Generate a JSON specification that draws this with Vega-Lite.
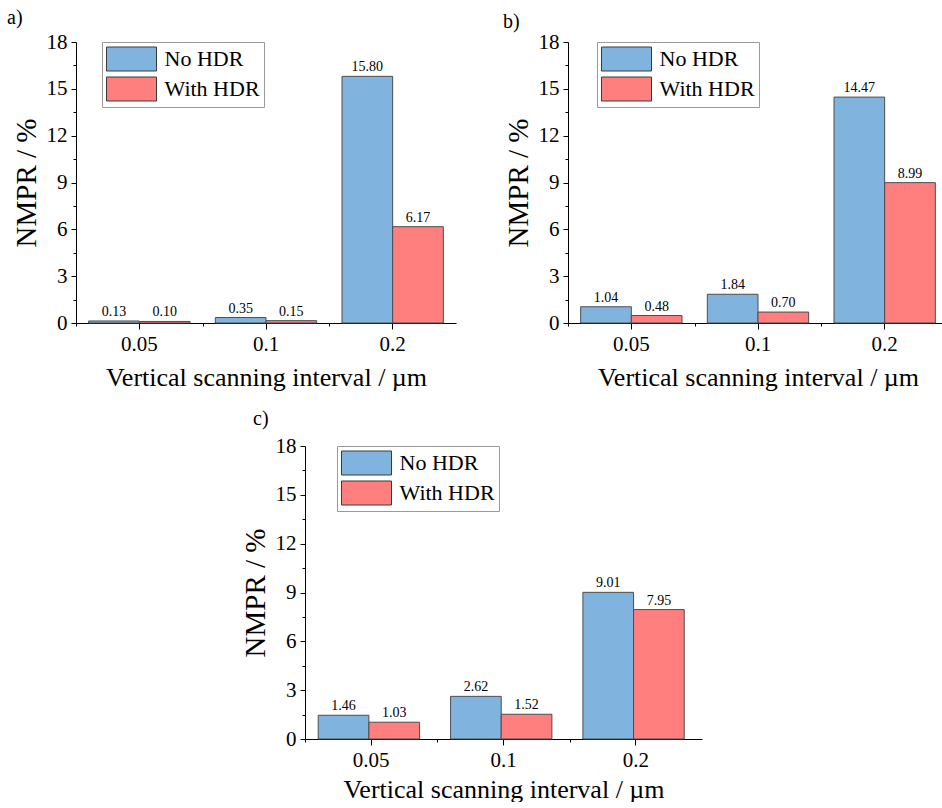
{
  "$schema": "https://vega.github.io/schema/vega-lite/v6.json",
  "background": "white",
  "padding": {"left": 7, "top": 8, "right": 0, "bottom": 0},
  "datasets": {
    "nmpr": [
      {"panel": "a", "interval": "0.05", "hdr": "No HDR", "value": 0.13},
      {"panel": "a", "interval": "0.05", "hdr": "With HDR", "value": 0.10},
      {"panel": "a", "interval": "0.1", "hdr": "No HDR", "value": 0.35},
      {"panel": "a", "interval": "0.1", "hdr": "With HDR", "value": 0.15},
      {"panel": "a", "interval": "0.2", "hdr": "No HDR", "value": 15.80},
      {"panel": "a", "interval": "0.2", "hdr": "With HDR", "value": 6.17},
      {"panel": "b", "interval": "0.05", "hdr": "No HDR", "value": 1.04},
      {"panel": "b", "interval": "0.05", "hdr": "With HDR", "value": 0.48},
      {"panel": "b", "interval": "0.1", "hdr": "No HDR", "value": 1.84},
      {"panel": "b", "interval": "0.1", "hdr": "With HDR", "value": 0.70},
      {"panel": "b", "interval": "0.2", "hdr": "No HDR", "value": 14.47},
      {"panel": "b", "interval": "0.2", "hdr": "With HDR", "value": 8.99},
      {"panel": "c", "interval": "0.05", "hdr": "No HDR", "value": 1.46},
      {"panel": "c", "interval": "0.05", "hdr": "With HDR", "value": 1.03},
      {"panel": "c", "interval": "0.1", "hdr": "No HDR", "value": 2.62},
      {"panel": "c", "interval": "0.1", "hdr": "With HDR", "value": 1.52},
      {"panel": "c", "interval": "0.2", "hdr": "No HDR", "value": 9.01},
      {"panel": "c", "interval": "0.2", "hdr": "With HDR", "value": 7.95}
    ]
  },
  "config": {
    "view": {"stroke": null},
    "font": "Liberation Serif",
    "axis": {
      "grid": false,
      "domainColor": "black",
      "tickColor": "black",
      "labelColor": "black",
      "titleColor": "black",
      "labelFont": "Liberation Serif",
      "titleFont": "Liberation Serif",
      "titleFontWeight": "normal",
      "domainWidth": 1,
      "tickWidth": 1
    },
    "title": {"font": "Liberation Serif", "fontWeight": "normal", "fontSize": 20, "color": "black", "anchor": "start", "frame": "group", "baseline": "alphabetic"},
    "legend": {
      "orient": "none",
      "title": null,
      "symbolType": "M-2,-0.96H2V0.96H-2Z",
      "symbolSize": 625,
      "symbolOffset": 12.5,
      "symbolStrokeColor": "#3a3a3a",
      "symbolStrokeWidth": 1,
      "symbolOpacity": 1,
      "labelFont": "Liberation Serif",
      "labelFontSize": 22,
      "labelColor": "black",
      "labelOffset": 20,
      "strokeColor": "#9a9a9a",
      "fillColor": "white",
      "padding": 4,
      "rowPadding": 2
    }
  },
  "spacing": 19,
  "resolve": {"scale": {"color": "independent"}, "legend": {"color": "independent"}},
  "vconcat": [
    {
      "spacing": 47,
      "resolve": {"scale": {"color": "independent"}, "legend": {"color": "independent"}},
      "hconcat": [
        {
          "width": 380,
          "height": 281,
          "title": {"text": "a)", "dx": -69, "offset": 3},
          "data": {"name": "nmpr"},
          "transform": [{"filter": "datum.panel == 'a'"}],
          "encoding": {
            "y": {"field": "value", "type": "quantitative", "scale": {"domain": [0, 18], "nice": false},
              "axis": {"orient": "left", "values": [0, 3, 6, 9, 12, 15, 18], "tickSize": 5, "labelFont": "Liberation Serif", "labelFontSize": 21, "labelPadding": 4, "title": "NMPR / %", "titleFontSize": 29, "titlePadding": 5}},
            "xOffset": {"field": "hdr", "type": "nominal", "sort": ["No HDR", "With HDR"]}
          },
          "layer": [
            {
              "mark": {"type": "bar", "stroke": "#4d4d4d", "strokeWidth": 1},
              "encoding": {
                "x": {"field": "interval", "type": "nominal", "sort": ["0.05", "0.1", "0.2"], "scale": {"paddingInner": 0.2, "paddingOuter": 0.1},
                  "axis": {"orient": "bottom", "labelAngle": 0, "tickSize": 6, "labelFont": "Liberation Serif", "labelFontSize": 21, "labelPadding": 4, "title": "Vertical scanning interval / µm", "titleFontSize": 26, "titlePadding": 10}},
                "color": {"field": "hdr", "type": "nominal", "sort": ["No HDR", "With HDR"],
                  "scale": {"domain": ["No HDR", "With HDR"], "range": ["#80B4DE", "#FF7F7F"]},
                  "legend": {"legendX": 26, "legendY": 0, "labelFont": "Liberation Serif"}}
              }
            },
            {
              "mark": {"type": "text", "baseline": "bottom", "dy": -2, "fontSize": 14, "font": "Liberation Serif", "color": "black"},
              "encoding": {
                "x": {"field": "interval", "type": "nominal", "sort": ["0.05", "0.1", "0.2"], "scale": {"paddingInner": 0.2, "paddingOuter": 0.1},
                  "axis": {"orient": "bottom", "labels": false, "domain": false, "title": null, "tickSize": 3, "tickOffset": -63.3}},
                "y": {"field": "value", "type": "quantitative", "scale": {"domain": [0, 18], "nice": false},
                  "axis": {"orient": "left", "values": [1.5, 4.5, 7.5, 10.5, 13.5, 16.5], "labels": false, "domain": false, "title": null, "tickSize": 3}},
                "text": {"field": "value", "type": "quantitative", "format": ".2f"}
              }
            }
          ],
          "resolve": {"axis": {"x": "independent", "y": "independent"}}
        },
        {
          "width": 380,
          "height": 281,
          "title": {"text": "b)", "dx": -65, "offset": -1},
          "data": {"name": "nmpr"},
          "transform": [{"filter": "datum.panel == 'b'"}],
          "encoding": {
            "y": {"field": "value", "type": "quantitative", "scale": {"domain": [0, 18], "nice": false},
              "axis": {"orient": "left", "values": [0, 3, 6, 9, 12, 15, 18], "tickSize": 5, "labelFont": "Liberation Serif", "labelFontSize": 21, "labelPadding": 4, "title": "NMPR / %", "titleFontSize": 29, "titlePadding": 5}},
            "xOffset": {"field": "hdr", "type": "nominal", "sort": ["No HDR", "With HDR"]}
          },
          "layer": [
            {
              "mark": {"type": "bar", "stroke": "#4d4d4d", "strokeWidth": 1},
              "encoding": {
                "x": {"field": "interval", "type": "nominal", "sort": ["0.05", "0.1", "0.2"], "scale": {"paddingInner": 0.2, "paddingOuter": 0.1},
                  "axis": {"orient": "bottom", "labelAngle": 0, "tickSize": 6, "labelFont": "Liberation Serif", "labelFontSize": 21, "labelPadding": 4, "title": "Vertical scanning interval / µm", "titleFontSize": 26, "titlePadding": 10}},
                "color": {"field": "hdr", "type": "nominal", "sort": ["No HDR", "With HDR"],
                  "scale": {"domain": ["No HDR", "With HDR"], "range": ["#80B4DE", "#FF7F7F"]},
                  "legend": {"legendX": 29, "legendY": 0, "labelFont": "Liberation Serif"}}
              }
            },
            {
              "mark": {"type": "text", "baseline": "bottom", "dy": -2, "fontSize": 14, "font": "Liberation Serif", "color": "black"},
              "encoding": {
                "x": {"field": "interval", "type": "nominal", "sort": ["0.05", "0.1", "0.2"], "scale": {"paddingInner": 0.2, "paddingOuter": 0.1},
                  "axis": {"orient": "bottom", "labels": false, "domain": false, "title": null, "tickSize": 3, "tickOffset": -63.3}},
                "y": {"field": "value", "type": "quantitative", "scale": {"domain": [0, 18], "nice": false},
                  "axis": {"orient": "left", "values": [1.5, 4.5, 7.5, 10.5, 13.5, 16.5], "labels": false, "domain": false, "title": null, "tickSize": 3}},
                "text": {"field": "value", "type": "quantitative", "format": ".2f"}
              }
            }
          ],
          "resolve": {"axis": {"x": "independent", "y": "independent"}}
        }
      ]
    },
    {
      "spacing": 0,
      "resolve": {"scale": {"color": "independent"}, "legend": {"color": "independent"}},
      "hconcat": [
        {
          "width": 165,
          "height": 10,
          "data": {"values": []},
          "mark": "point",
          "encoding": {}
        },
        {
          "width": 397,
          "height": 293,
          "title": {"text": "c)", "dx": -52, "offset": 6},
          "data": {"name": "nmpr"},
          "transform": [{"filter": "datum.panel == 'c'"}],
          "encoding": {
            "y": {"field": "value", "type": "quantitative", "scale": {"domain": [0, 18], "nice": false},
              "axis": {"orient": "left", "values": [0, 3, 6, 9, 12, 15, 18], "tickSize": 5, "labelFont": "Liberation Serif", "labelFontSize": 21, "labelPadding": 4, "title": "NMPR / %", "titleFontSize": 29, "titlePadding": 5}},
            "xOffset": {"field": "hdr", "type": "nominal", "sort": ["No HDR", "With HDR"]}
          },
          "layer": [
            {
              "mark": {"type": "bar", "stroke": "#4d4d4d", "strokeWidth": 1},
              "encoding": {
                "x": {"field": "interval", "type": "nominal", "sort": ["0.05", "0.1", "0.2"], "scale": {"paddingInner": 0.2, "paddingOuter": 0.1},
                  "axis": {"orient": "bottom", "labelAngle": 0, "tickSize": 6, "labelFont": "Liberation Serif", "labelFontSize": 21, "labelPadding": 4, "title": "Vertical scanning interval / µm", "titleFontSize": 26, "titlePadding": 6}},
                "color": {"field": "hdr", "type": "nominal", "sort": ["No HDR", "With HDR"],
                  "scale": {"domain": ["No HDR", "With HDR"], "range": ["#80B4DE", "#FF7F7F"]},
                  "legend": {"legendX": 32, "legendY": 0, "labelFont": "Liberation Serif"}}
              }
            },
            {
              "mark": {"type": "text", "baseline": "bottom", "dy": -2, "fontSize": 14, "font": "Liberation Serif", "color": "black"},
              "encoding": {
                "x": {"field": "interval", "type": "nominal", "sort": ["0.05", "0.1", "0.2"], "scale": {"paddingInner": 0.2, "paddingOuter": 0.1},
                  "axis": {"orient": "bottom", "labels": false, "domain": false, "title": null, "tickSize": 3, "tickOffset": -66.2}},
                "y": {"field": "value", "type": "quantitative", "scale": {"domain": [0, 18], "nice": false},
                  "axis": {"orient": "left", "values": [1.5, 4.5, 7.5, 10.5, 13.5, 16.5], "labels": false, "domain": false, "title": null, "tickSize": 3}},
                "text": {"field": "value", "type": "quantitative", "format": ".2f"}
              }
            }
          ],
          "resolve": {"axis": {"x": "independent", "y": "independent"}}
        }
      ]
    }
  ]
}
